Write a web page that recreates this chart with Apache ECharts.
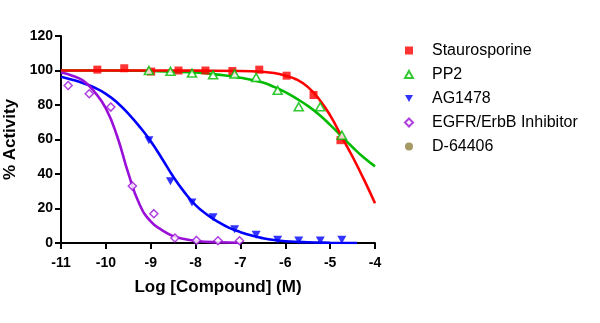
<!DOCTYPE html>
<html>
<head>
<meta charset="utf-8">
<script src="https://cdn.jsdelivr.net/npm/echarts@6/dist/echarts.min.js"></script>
<style>
  html, body { margin: 0; padding: 0; background: #fff; }
  #chart { width: 600px; height: 323px; }
</style>
</head>
<body>
<div id="chart"></div>
<script>
// Measured points: log10 of concentration (M) and % activity
const staurosporineLog = [-10.19, -9.59, -8.99, -8.38, -7.78, -7.18, -6.58, -5.97, -5.37, -4.77];
const staurosporineAct = [100.5, 101.3, 99.4, 100, 100, 99.7, 100.5, 97, 85.8, 59.6];

const pp2Log = [-9.04, -8.56, -8.08, -7.61, -7.13, -6.65, -6.17, -5.70, -5.22, -4.74];
const pp2Act = [100, 99.5, 98.5, 97.5, 98, 96, 88.5, 79, 79, 62.5];

const ag1478Log = [-9.04, -8.56, -8.08, -7.61, -7.13, -6.65, -6.17, -5.70, -5.22, -4.74];
const ag1478Act = [59.6, 35.8, 23.5, 15, 8, 4.8, 1.9, 1.5, 1.5, 1.9];

const egfrLog = [-10.84, -10.37, -9.89, -9.41, -8.93, -8.46, -7.98, -7.50, -7.02];
const egfrAct = [91.3, 86.5, 78.8, 33, 17, 2.9, 1.5, 1.3, 1.3];

// Fitted dose-response curves, sampled along the x range
const stauroFitLog = [-11, -10, -9, -8, -7, -6.5, -6.25, -6, -5.75, -5.5, -5.25, -5, -4.75, -4.5, -4.25, -4];
const stauroFitAct = [100, 100, 100, 99.9, 99.7, 99.2, 98.5, 97, 94.8, 90.5, 83.5, 74, 62, 50, 37, 23];

const pp2FitLog = [-11, -10, -9, -8.5, -8, -7.5, -7, -6.5, -6.25, -6, -5.75, -5.5, -5.25, -5, -4.75, -4.5, -4.25, -4];
const pp2FitAct = [100, 100, 99.7, 99.3, 98.8, 97.6, 95.8, 93, 90.5, 87.5, 83.7, 79.5, 74.5, 68.5, 62, 55.5, 49.5, 44.4];

const ag1478FitLog = [-11, -10.75, -10.5, -10.25, -10, -9.75, -9.5, -9.25, -9, -8.75, -8.5, -8.25, -8, -7.75,
  -7.5, -7.25, -7, -6.75, -6.5, -6.25, -6, -5.5, -5, -4.4];
const ag1478FitAct = [96.4, 94.7, 92.6, 90, 86.5, 81.5, 75, 67.5, 59, 49, 38.5, 29.5, 22, 16.5,
  12.3, 8.8, 6.3, 4.3, 2.8, 1.7, 1, 0.4, 0.15, 0];

const egfrFitLog = [-11, -10.75, -10.5, -10.25, -10, -9.75, -9.5, -9.25, -9, -8.75, -8.5, -8.25, -8, -7.5, -7];
const egfrFitAct = [98.8, 97, 94, 87.5, 78, 62, 40.5, 22.5, 12.5, 7.5, 4, 2.3, 1.2, 0.4, 0.15];

const compoundNames = ['Staurosporine', 'PP2', 'AG1478', 'EGFR/ErbB Inhibitor', 'D-64406'];

const xTicks = { min: -11, max: -4, step: 1 };
const yTicks = { min: 0, max: 120, step: 20 };

const RED = '#FF0000', GREEN = '#00BB00', BLUE = '#0000FF', PURPLE = '#9A10D8', OLIVE = '#8E7F3F';
const DOWN_TRI = 'path://M0,0L10,0L5,9Z';
const UP_TRI = 'path://M5,0L10,9L0,9Z';
const FONT = 'Liberation Sans';

const zip = (xs, ys) => xs.map((x, i) => [x, ys[i]]);

function curve(xs, ys, color) {
  return {
    type: 'line',
    data: zip(xs, ys),
    showSymbol: false,
    symbol: 'none',
    smooth: 0.5,
    lineStyle: { color: color, width: 2.6 },
    silent: true,
    z: 2
  };
}

const chart = echarts.init(document.getElementById('chart'), null, { renderer: 'canvas' });

chart.setOption({
  animation: false,
  backgroundColor: '#fff',
  grid: { left: 61, right: 225, top: 36, bottom: 80, containLabel: false, outerBoundsMode: 'none' },
  xAxis: {
    type: 'value',
    min: xTicks.min, max: xTicks.max, interval: xTicks.step,
    name: 'Log [Compound] (M)',
    nameLocation: 'middle',
    nameGap: 36,
    nameTextStyle: { fontFamily: FONT, fontWeight: 'bold', fontSize: 17, color: '#000' },
    axisLine: { onZero: false, lineStyle: { color: '#000', width: 2 } },
    axisTick: { length: 6, lineStyle: { color: '#000', width: 2 } },
    axisLabel: { margin: 13, fontFamily: FONT, fontWeight: 'bold', fontSize: 14, color: '#000' },
    splitLine: { show: false }
  },
  yAxis: {
    type: 'value',
    min: yTicks.min, max: yTicks.max, interval: yTicks.step,
    name: '% Activity',
    nameLocation: 'middle',
    nameGap: 37,
    nameTextStyle: { fontFamily: FONT, fontWeight: 'bold', fontSize: 17, color: '#000' },
    axisLine: { show: true, lineStyle: { color: '#000', width: 2 } },
    axisTick: { show: true, length: 6, lineStyle: { color: '#000', width: 2 } },
    axisLabel: { margin: 8, fontFamily: FONT, fontWeight: 'bold', fontSize: 14, color: '#000' },
    splitLine: { show: false }
  },
  legend: {
    orient: 'vertical',
    left: 399,
    top: 37,
    itemWidth: 8,
    itemHeight: 8,
    itemGap: 7,
    data: compoundNames,
    textStyle: { fontFamily: FONT, fontSize: 16, color: '#000', lineHeight: 17, padding: [0, 0, 0, 14] }
  },
  series: [
    curve(pp2FitLog, pp2FitAct, GREEN),
    curve(stauroFitLog, stauroFitAct, RED),
    curve(ag1478FitLog, ag1478FitAct, BLUE),
    curve(egfrFitLog, egfrFitAct, PURPLE),
    {
      name: compoundNames[0], type: 'scatter', z: 5,
      data: zip(staurosporineLog, staurosporineAct),
      symbol: 'rect', symbolSize: 8,
      itemStyle: { color: RED }
    },
    {
      name: compoundNames[1], type: 'scatter', z: 5,
      data: zip(pp2Log, pp2Act),
      symbol: UP_TRI, symbolSize: [9, 8],
      itemStyle: { color: '#fff', borderColor: GREEN, borderWidth: 1.6 }
    },
    {
      name: compoundNames[2], type: 'scatter', z: 5,
      data: zip(ag1478Log, ag1478Act),
      symbol: DOWN_TRI, symbolSize: [9, 8],
      itemStyle: { color: BLUE }
    },
    {
      name: compoundNames[3], type: 'scatter', z: 5,
      data: zip(egfrLog, egfrAct),
      symbol: 'diamond', symbolSize: 8,
      itemStyle: { color: '#fff', borderColor: PURPLE, borderWidth: 1.5 }
    },
    {
      name: compoundNames[4], type: 'scatter', z: 5,
      data: [],
      symbol: 'circle', symbolSize: 7,
      itemStyle: { color: OLIVE }
    }
  ]
});
</script>
</body>
</html>
